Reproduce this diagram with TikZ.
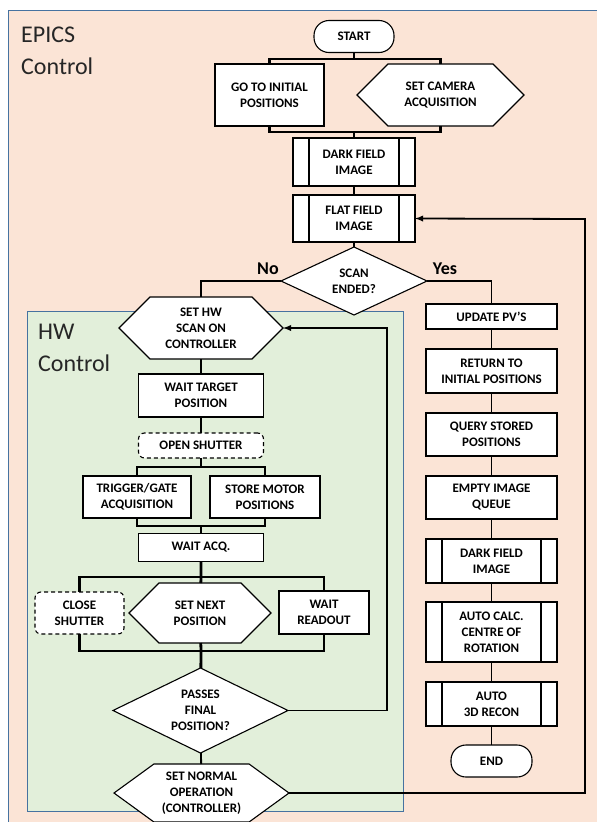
\documentclass[tikz,border=0pt]{standalone}
\usepackage{fontspec}
\setmainfont{Carlito}
\usetikzlibrary{positioning,shapes.geometric,shapes.symbols,arrows}

\definecolor{epicsbg}{RGB}{251,228,214}
\definecolor{hwbg}{RGB}{226,239,218}
\definecolor{framecol}{RGB}{70,114,160}

\tikzset{
  box/.style={draw=black, line width=1.1pt, fill=white, align=center, inner sep=1pt, outer sep=0pt,
    font=\bfseries\fontsize{13}{16}\selectfont},
  proc/.style={box, rectangle},
  term/.style={box, rectangle, rounded corners=15pt},
  prep/.style={box, signal, signal to=east and west},
  subproc/.style={proc, path picture={
    \draw[line width=1.1pt] ([xshift=16pt]path picture bounding box.north west) -- ([xshift=16pt]path picture bounding box.south west)
      ([xshift=-16pt]path picture bounding box.north east) -- ([xshift=-16pt]path picture bounding box.south east);}},
  decide/.style={box, diamond, inner sep=0pt},
  manual/.style={proc, dash pattern=on 4pt off 3pt, rounded corners=6pt},
  conn/.style={line width=1.8pt},
  bar/.style={line width=2.8pt},
  ctrl/.style={align=left, anchor=north west, inner sep=0pt, text=black!85,
    font=\fontsize{24}{32}\selectfont},
  answer/.style={font=\bfseries\fontsize{18}{20}\selectfont}
}

\begin{document}
\begin{tikzpicture}[x=1pt, y=-1pt]
            \useasboundingbox (0,0) rectangle (597,822);

            % Control areas
            \draw[draw=framecol, line width=1pt, fill=epicsbg] (8,10) rectangle (620,840);
            \draw[draw=framecol, line width=1pt, fill=hwbg] (27,311) rectangle (403,811);
            \node[ctrl] (epics) at (21,27) {EPICS\\Control};
            \node[ctrl] (hw) at (38,324) {HW\\Control};

            % Define nodes
            \node[term, minimum width=80pt, minimum height=32pt] (start) at (354,36.5) {START};
            \node[proc, minimum width=109pt, minimum height=62pt] (goto) at (269.5,95) {GO TO INITIAL\\POSITIONS};
            \node[prep, minimum width=167pt, minimum height=62pt] (cam) at (440.5,95) {SET CAMERA\\ACQUISITION};
            \node[subproc, minimum width=122pt, minimum height=48pt] (dark1) at (354,162) {DARK FIELD\\IMAGE};
            \node[subproc, minimum width=122pt, minimum height=47pt, below=9pt of dark1] (flat) {FLAT FIELD\\IMAGE};
            \node[decide, minimum width=146pt, minimum height=68pt, shape aspect=2.15, below=5pt of flat] (scan) {SCAN\\ENDED?};
            \node[answer] (no) at (268,269) {No};
            \node[answer] (yes) at (445,269) {Yes};

            % Yes branch
            \node[proc, minimum width=131pt, minimum height=25pt] (upd) at (491.5,316.5) {UPDATE PV’S};
            \node[proc, minimum width=131pt, minimum height=44pt, below=20pt of upd] (ret) {RETURN TO\\INITIAL POSITIONS};
            \node[proc, minimum width=131pt, minimum height=43pt, below=20pt of ret] (query) {QUERY STORED\\POSITIONS};
            \node[proc, minimum width=131pt, minimum height=43pt, below=20pt of query] (empty) {EMPTY IMAGE\\QUEUE};
            \node[subproc, minimum width=131pt, minimum height=44pt, below=20pt of empty] (dark2) {DARK FIELD\\IMAGE};
            \node[subproc, minimum width=131pt, minimum height=60pt, below=19pt of dark2] (rot) {AUTO CALC.\\CENTRE OF\\ROTATION};
            \node[subproc, minimum width=131pt, minimum height=44pt, below=20pt of rot] (recon) {AUTO\\3D RECON};
            \node[term, minimum width=81pt, minimum height=32pt, below=19pt of recon] (end) {END};

            % No branch (HW control)
            \node[prep, minimum width=164pt, minimum height=62pt] (sethw) at (201,328) {SET HW\\SCAN ON\\CONTROLLER};
            \node[proc, minimum width=125pt, minimum height=43pt, below=15pt of sethw] (target) {WAIT TARGET\\POSITION};
            \node[manual, minimum width=125pt, minimum height=25pt, below=16pt of target] (open) {OPEN SHUTTER};
            \node[proc, minimum width=108pt, minimum height=42pt] (trig) at (137,497) {TRIGGER/GATE\\ACQUISITION};
            \node[proc, minimum width=110pt, minimum height=42pt] (store) at (265,497) {STORE MOTOR\\POSITIONS};
            \node[proc, minimum width=125pt, minimum height=28pt] (acq) at (201,547.5) {WAIT ACQ.};
            \node[manual, minimum width=89pt, minimum height=42pt] (close) at (79.5,613) {CLOSE\\SHUTTER};
            \node[prep, minimum width=142pt, minimum height=60pt] (next) at (200,613) {SET NEXT\\POSITION};
            \node[proc, minimum width=90pt, minimum height=43pt] (readout) at (324,612.5) {WAIT\\READOUT};
            \node[decide, minimum width=175pt, minimum height=85pt, shape aspect=2.06] (passes) at (200.5,710.5) {PASSES\\FINAL\\POSITION?};
            \node[prep, minimum width=175pt, minimum height=58pt, signal pointer angle=72] (normal) at (201.5,793) {SET NORMAL\\OPERATION\\(CONTROLLER)};

            \coordinate (split1) at (354,59);
            \coordinate (join1) at (354,132);
            \coordinate (split2) at (201,467);
            \coordinate (join2) at (201,526);
            \coordinate (split3) at (201,577);
            \coordinate (join3) at (201,651);
            \coordinate (loopa) at (387,328);
            \coordinate (loopb) at (585,219);

            % Connect the nodes
            \draw[bar] (start) -- (split1);
            \draw[bar] (goto.north) |- (split1) -| (cam.north);
            \draw[bar] (goto.south) |- (join1) -| (cam.south);
            \draw[bar] (join1) -- (dark1);
            \draw[conn] (dark1) -- (flat);
            \draw[conn] (flat) -- (scan);
            \draw[conn] (scan.west) -| (sethw.north);
            \draw[conn] (scan.east) -| (upd.north);
            \draw[conn] (upd) -- (ret) -- (query) -- (empty) -- (dark2) -- (rot) -- (recon) -- (end);

            \draw[conn] (sethw) -- (target) -- (open);
            \draw[bar] (open) -- (split2);
            \draw[bar] (trig.north) |- (split2) -| (store.north);
            \draw[bar] (trig.south) |- (join2) -| (store.south);
            \draw[bar] (join2) -- (acq);
            \draw[bar] (acq) -- (split3) -- (next);
            \draw[bar] (close.north) |- (split3) -| (readout.north);
            \draw[bar] (close.south) |- (join3) -| (readout.south);
            \draw[bar] (next) -- (join3) -- (passes);
            \draw[conn] (passes) -- (normal);

            % Loops back
            \draw[conn, -latex] (passes.east) -| (loopa) -- (sethw.east);
            \draw[conn, -latex] (normal.east) -| (loopb) -- (flat.east);
\end{tikzpicture}
\end{document}
